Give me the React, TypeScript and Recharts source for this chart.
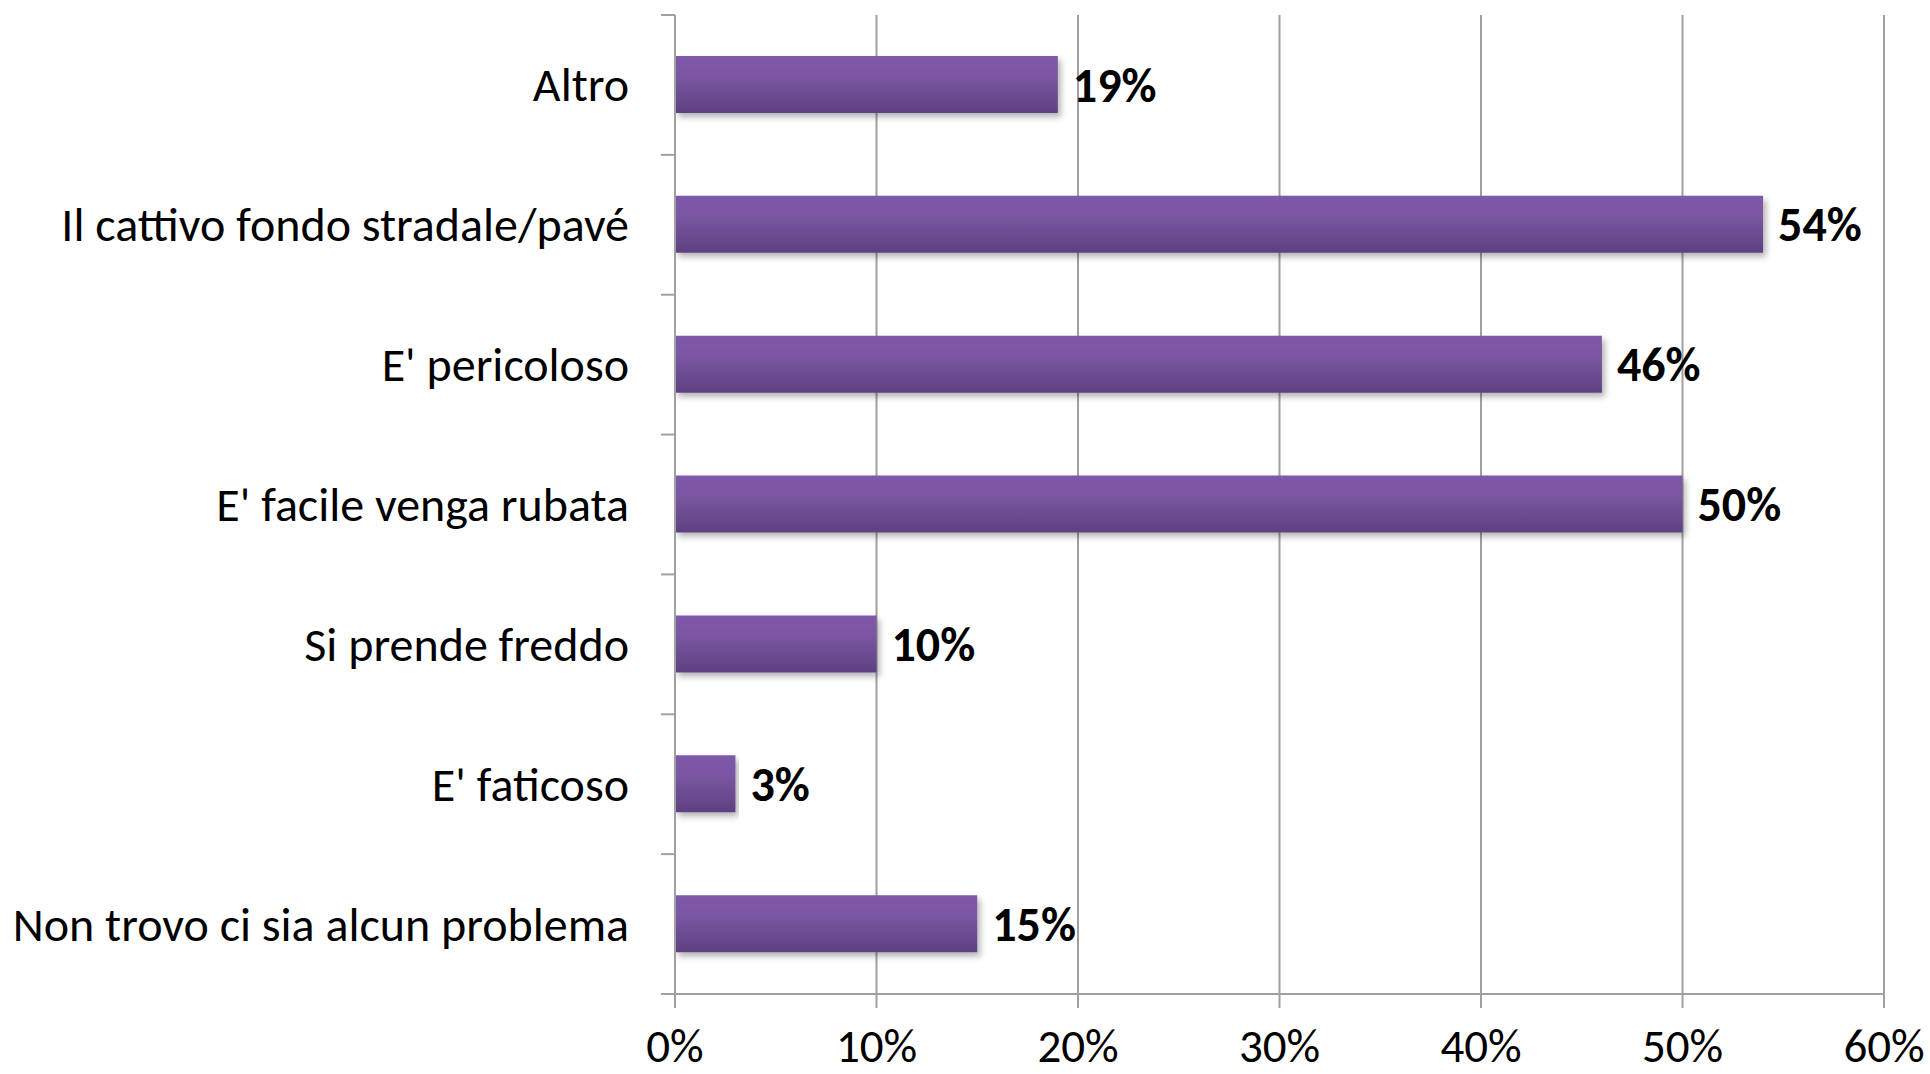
import { BarChart, Bar, CartesianGrid, XAxis, YAxis, LabelList } from 'recharts';

const categories = [
    "Altro",
    "Il cattivo fondo stradale/pavé",
    "E' pericoloso",
    "E' facile venga rubata",
    "Si prende freddo",
    "E' faticoso",
    "Non trovo ci sia alcun problema",
];
const values = [19, 54, 46, 50, 10, 3, 15];
const xTicks = [0, 10, 20, 30, 40, 50, 60];

const W = 1930;
const H = 1074;
const MARGIN = { top: 15, right: 46, bottom: 0, left: 0 };
const YAXIS_W = 675;
const XAXIS_H = 80;
const GAP = 46;
const TICK = 14;
const FONT = "Calibri, Carlito, Lato, sans-serif";
const AXIS_COLOR = '#a0a0a0';

const BAND = (H - MARGIN.top - MARGIN.bottom - XAXIS_H) / categories.length;

const CategoryTick = (props: any) => {
    const { x, y, payload, index } = props;
    const ax = x + GAP;
    return (
        <g>
            <text x={x} y={y} textAnchor="end" dominantBaseline="central" fontSize={48} fontFamily={FONT} fill="#000">
                {payload.value}
            </text>
            <line x1={ax - TICK} x2={ax} y1={y - BAND / 2} y2={y - BAND / 2} stroke={AXIS_COLOR} strokeWidth={2} />
            {index === categories.length - 1 && (
                <line x1={ax - TICK} x2={ax} y1={y + BAND / 2} y2={y + BAND / 2} stroke={AXIS_COLOR} strokeWidth={2} />
            )}
        </g>
    );
};

const App = () => {
    const data = categories.map((name, i) => ({ name, value: values[i] }));

    return (
        <div style={{ position: 'absolute', left: 0, top: 0, background: '#fff' }}>
            <BarChart width={W} height={H} data={data} layout="vertical" margin={MARGIN}>
                <defs>
                    <linearGradient id="barFill" x1="0" y1="0" x2="0" y2="1">
                        <stop offset="0%" stopColor="#7f5aa9" />
                        <stop offset="35%" stopColor="#7a56a3" />
                        <stop offset="100%" stopColor="#5e4180" />
                    </linearGradient>
                    <filter id="shadow" x="-5%" y="-20%" width="110%" height="160%">
                        <feDropShadow dx="3" dy="4" stdDeviation="3" floodColor="#000" floodOpacity="0.3" />
                    </filter>
                </defs>
                <CartesianGrid horizontal={false} stroke={AXIS_COLOR} strokeWidth={2} />
                <XAxis
                    type="number"
                    domain={[0, 60]}
                    ticks={xTicks}
                    tickFormatter={(v) => `${v}%`}
                    height={XAXIS_H}
                    stroke={AXIS_COLOR}
                    strokeWidth={2}
                    tickSize={TICK}
                    tickMargin={21}
                    tick={{ fill: '#000', fontSize: 47, fontFamily: FONT }}
                />
                <YAxis
                    type="category"
                    dataKey="name"
                    width={YAXIS_W}
                    stroke={AXIS_COLOR}
                    strokeWidth={2}
                    tickLine={false}
                    tickSize={0}
                    tickMargin={GAP}
                    interval={0}
                    tick={<CategoryTick />}
                />
                <Bar dataKey="value" fill="url(#barFill)" barSize={57} filter="url(#shadow)" isAnimationActive={false}>
                    <LabelList
                        dataKey="value"
                        position="right"
                        offset={15}
                        formatter={(v: any) => `${v}%`}
                        fill="#000"
                        fontSize={48}
                        fontWeight="bold"
                        fontFamily={FONT}
                    />
                </Bar>
            </BarChart>
        </div>
    );
};

export default App;
